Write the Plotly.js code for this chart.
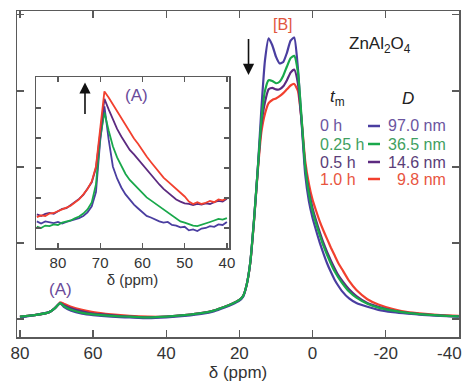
<!DOCTYPE html>
<html>
<head>
<meta charset="utf-8">
<script src="https://cdn.plot.ly/plotly-3.0.1.min.js"></script>
<style>
  html, body { margin: 0; padding: 0; background: #fff; }
  #chart { width: 462px; height: 383px; }
</style>
</head>
<body>
<div id="chart"></div>
<script>
// 27Al NMR spectra of ZnAl2O4 after milling for different times

// milling time, crystallite size and colours of the four spectra
const millTimes = ['0 h', '0.25 h', '0.5 h', '1.0 h'];
const sizes = ['97.0 nm', '36.5 nm', '14.6 nm', '9.8 nm'];
const lineColors = ['#4a3ea0', '#19a84b', '#5c2a80', '#f2402e'];
const textColors = ['#6b55a0', '#3f9f5f', '#5a3d78', '#e8553f'];

// full spectrum: chemical shift (ppm) and normalised intensity
const shiftMain = [80, 76, 72, 70.5, 69.5, 69, 68, 66, 63, 60, 55, 50, 45, 40, 35, 30, 27, 24, 22, 20,
  19, 18, 17, 16, 15, 14, 13, 12, 11, 10, 9, 8, 7, 6, 5, 4, 3, 2, 1, 0,
  -1, -2, -3, -4, -5, -6, -7, -8, -10, -12, -15, -18, -22, -26, -30, -35, -40];

const main0h = [0.02, 0.05, 0.09, 0.14, 0.19, 0.21, 0.16, 0.11, 0.07, 0.05, 0.03, 0.02, 0.01, 0.02, 0.04, 0.07, 0.10, 0.15, 0.19, 0.24,
  0.29, 0.45, 0.75, 1.30, 1.95, 2.75, 3.40, 3.69, 3.60, 3.45, 3.36, 3.38, 3.50, 3.66, 3.70, 3.30, 2.60, 1.90, 1.55, 1.33,
  1.16, 1.00, 0.86, 0.73, 0.62, 0.52, 0.44, 0.37, 0.27, 0.21, 0.16, 0.12, 0.09, 0.07, 0.055, 0.04, 0.03];

const main025h = [0.03, 0.05, 0.09, 0.14, 0.19, 0.21, 0.17, 0.12, 0.08, 0.06, 0.04, 0.03, 0.02, 0.03, 0.05, 0.08, 0.11, 0.16, 0.20, 0.25,
  0.30, 0.45, 0.75, 1.30, 1.95, 2.60, 3.00, 3.14, 3.13, 3.10, 3.12, 3.20, 3.32, 3.43, 3.46, 3.25, 2.65, 2.00, 1.65, 1.42,
  1.25, 1.10, 0.96, 0.84, 0.73, 0.63, 0.55, 0.48, 0.36, 0.28, 0.20, 0.15, 0.11, 0.08, 0.06, 0.045, 0.035];

const main05h = [0.03, 0.05, 0.09, 0.14, 0.19, 0.21, 0.18, 0.14, 0.10, 0.07, 0.05, 0.03, 0.02, 0.03, 0.05, 0.08, 0.11, 0.16, 0.20, 0.25,
  0.30, 0.45, 0.75, 1.30, 1.95, 2.55, 2.85, 3.02, 3.04, 3.02, 3.02, 3.06, 3.14, 3.24, 3.28, 3.10, 2.60, 2.00, 1.68, 1.46,
  1.29, 1.14, 1.00, 0.88, 0.77, 0.67, 0.58, 0.51, 0.39, 0.30, 0.21, 0.16, 0.11, 0.08, 0.06, 0.045, 0.035];

const main10h = [0.03, 0.05, 0.09, 0.14, 0.19, 0.22, 0.20, 0.16, 0.12, 0.09, 0.06, 0.04, 0.03, 0.03, 0.05, 0.08, 0.11, 0.16, 0.20, 0.25,
  0.30, 0.45, 0.74, 1.28, 1.92, 2.45, 2.70, 2.84, 2.88, 2.90, 2.93, 2.97, 3.02, 3.07, 3.09, 3.00, 2.62, 2.08, 1.78, 1.57,
  1.42, 1.28, 1.16, 1.05, 0.94, 0.84, 0.74, 0.66, 0.50, 0.38, 0.26, 0.19, 0.13, 0.09, 0.07, 0.05, 0.04];

// enlarged signal (A): chemical shift (ppm) and intensity
const shiftInset = [85, 84, 83, 82, 81, 80, 79, 78, 77, 76, 75, 74, 73, 72, 71, 70, 69, 68, 67, 66,
  65, 64, 63, 62, 61, 60, 59, 58, 57, 56, 55, 54, 53, 52, 51, 50, 49, 48, 47, 46,
  45, 44, 43, 42, 41, 40];

const inset0h = [0.22, 0.15, 0.22, 0.18, 0.16, 0.20, 0.15, 0.20, 0.24, 0.28, 0.33, 0.40, 0.52, 0.72, 1.20, 2.90, 4.05, 2.95, 2.05, 1.65,
  1.35, 1.12, 0.93, 0.78, 0.65, 0.52, 0.40, 0.35, 0.28, 0.22, 0.18, 0.20, 0.10, 0.08, 0.02, 0.04, -0.08, -0.05, -0.10, -0.02,
  0.00, 0.06, 0.04, 0.12, 0.10, 0.20];

const inset025h = [0.05, 0.00, 0.08, 0.06, 0.12, 0.10, 0.18, 0.22, 0.25, 0.32, 0.38, 0.48, 0.62, 0.85, 1.45, 3.00, 3.85, 3.25, 2.72, 2.35,
  2.05, 1.80, 1.60, 1.45, 1.30, 1.15, 1.02, 0.92, 0.82, 0.72, 0.62, 0.52, 0.40, 0.30, 0.22, 0.18, 0.12, 0.08, 0.06, 0.10,
  0.15, 0.20, 0.25, 0.30, 0.28, 0.33];

const inset05h = [0.45, 0.40, 0.47, 0.50, 0.47, 0.56, 0.64, 0.66, 0.76, 0.84, 0.97, 1.10, 1.30, 1.52, 2.00, 3.20, 4.30, 3.95, 3.60, 3.30,
  3.05, 2.82, 2.60, 2.45, 2.28, 2.10, 1.93, 1.78, 1.62, 1.45, 1.30, 1.18, 1.05, 0.95, 0.88, 0.82, 0.80, 0.76, 0.80, 0.78,
  0.82, 0.80, 0.86, 0.90, 0.88, 0.97];

const inset10h = [0.36, 0.42, 0.40, 0.48, 0.50, 0.55, 0.62, 0.68, 0.74, 0.85, 0.95, 1.12, 1.30, 1.55, 2.05, 3.30, 4.55, 4.35, 4.12, 3.92,
  3.65, 3.42, 3.20, 2.98, 2.80, 2.58, 2.38, 2.20, 2.02, 1.85, 1.68, 1.55, 1.42, 1.30, 1.15, 1.05, 0.88, 0.80, 0.86, 0.80,
  0.84, 0.90, 0.86, 0.95, 0.92, 1.00];

const mainSeries = [main0h, main025h, main05h, main10h];
const insetSeries = [inset0h, inset025h, inset05h, inset10h];

const FONT = 'Liberation Sans, Arial, Helvetica, sans-serif';
const AXIS = '#5a5a5a';

const traces = [];
// full spectra; green drawn last so it sits on top at the baseline
[3, 2, 0, 1].forEach(i => {
  traces.push({
    x: shiftMain, y: mainSeries[i], type: 'scatter', mode: 'lines',
    name: millTimes[i], xaxis: 'x', yaxis: 'y',
    line: { color: lineColors[i], width: 2.2, shape: 'spline', smoothing: 0.5 },
    showlegend: false, hoverinfo: 'skip'
  });
});
// enlarged signal (A)
[0, 1, 2, 3].forEach(i => {
  traces.push({
    x: shiftInset, y: insetSeries[i], type: 'scatter', mode: 'lines',
    name: millTimes[i], xaxis: 'x2', yaxis: 'y2',
    line: { color: lineColors[i], width: 1.8 },
    showlegend: false, hoverinfo: 'skip'
  });
});

// pixel helpers for the plot area (left 17, right 459, top 11, bottom 337)
const px = v => (v - 17) / 442;
const py = v => (337 - v) / 326;

const annotations = [
  { xref: 'x', yref: 'y', x: 69, y: 0.39, text: '(A)', showarrow: false,
    xanchor: 'center', yanchor: 'middle', font: { size: 17, color: '#6a4a9a' } },
  { xref: 'x', yref: 'y', x: 8.2, y: 3.87, text: '[B]', showarrow: false,
    xanchor: 'center', yanchor: 'middle', font: { size: 16, color: '#e0553f' } },
  { xref: 'x', yref: 'y', axref: 'x', ayref: 'y', x: 17.5, y: 3.21, ax: 17.5, ay: 3.70,
    text: '', showarrow: true, arrowhead: 2, arrowsize: 1.4, arrowwidth: 1.6, arrowcolor: '#111' },
  { xref: 'paper', yref: 'paper', x: px(380), y: py(45), text: 'ZnAl<sub>2</sub>O<sub>4</sub>',
    xanchor: 'center', yanchor: 'middle', showarrow: false, font: { size: 17, color: '#222' } },
  { xref: 'paper', yref: 'paper', x: px(337), y: py(98), text: '<i>t</i><sub>m</sub>',
    xanchor: 'center', yanchor: 'middle', showarrow: false, font: { size: 17, color: '#222' } },
  { xref: 'paper', yref: 'paper', x: px(408), y: py(98), text: '<i>D</i>',
    xanchor: 'center', yanchor: 'middle', showarrow: false, font: { size: 17, color: '#222' } },
  // enlarged signal labels
  { xref: 'x2', yref: 'y2', x: 61.3, y: 4.43, text: '(A)', showarrow: false,
    xanchor: 'center', yanchor: 'middle', font: { size: 17, color: '#6a4a9a' } },
  { xref: 'x2', yref: 'y2', axref: 'x2', ayref: 'y2', x: 73.6, y: 4.85, ax: 73.6, ay: 3.75,
    text: '', showarrow: true, arrowhead: 2, arrowsize: 1.4, arrowwidth: 1.6, arrowcolor: '#111' }
];

const shapes = [];
const rowY = [126, 144, 162, 179];
millTimes.forEach((t, i) => {
  annotations.push({ xref: 'paper', yref: 'paper', x: px(318), y: py(rowY[i]),
    xanchor: 'left', yanchor: 'middle',
    text: t, showarrow: false, font: { size: 16, color: textColors[i] } });
  annotations.push({ xref: 'paper', yref: 'paper', x: px(448), y: py(rowY[i]),
    xanchor: 'right', yanchor: 'middle',
    text: sizes[i], showarrow: false, font: { size: 16, color: textColors[i] } });
  shapes.push({ type: 'line', xref: 'paper', yref: 'paper', x0: px(368), x1: px(380),
    y0: py(rowY[i]), y1: py(rowY[i]), line: { color: lineColors[i], width: 2.5 } });
});

const layout = {
  width: 462, height: 383,
  margin: { l: 17, r: 3, t: 11, b: 46, pad: 0 },
  paper_bgcolor: '#fff', plot_bgcolor: '#fff',
  font: { family: FONT, color: '#333' },
  showlegend: false,
  xaxis: {
    range: [80.8, -40.05], domain: [0, 1], anchor: 'y',
    tickvals: [80, 60, 40, 20, 0, -20, -40],
    ticktext: ['80', '60', '40', '20', '0', '-20', '-40\u00a0\u00a0\u00a0\u00a0'],
    ticklabeloverflow: 'allow',
    ticks: 'inside', ticklen: 7, tickwidth: 1.3, tickcolor: AXIS,
    showline: true, linecolor: AXIS, linewidth: 1.5, mirror: 'ticks',
    showgrid: false, zeroline: false,
    tickfont: { size: 17, color: '#333' },
    title: { text: '\u03b4 (ppm)', font: { size: 17, color: '#333' }, standoff: 2 }
  },
  yaxis: {
    range: [-0.237, 4.05], domain: [0, 1], anchor: 'x',
    tickvals: [0, 1, 2, 3, 4], showticklabels: false,
    ticks: 'inside', ticklen: 7, tickwidth: 1.3, tickcolor: AXIS,
    showline: true, linecolor: AXIS, linewidth: 1.5, mirror: 'ticks',
    showgrid: false, zeroline: false
  },
  xaxis2: {
    range: [85.2, 39.5], domain: [px(36), px(229)], anchor: 'y2',
    tickvals: [80, 70, 60, 50, 40],
    ticks: 'inside', ticklen: 5, tickwidth: 1.3, tickcolor: AXIS,
    showline: true, linecolor: AXIS, linewidth: 1.5, mirror: 'ticks',
    showgrid: false, zeroline: false,
    tickfont: { size: 15, color: '#333' },
    title: { text: '\u03b4 (ppm)', font: { size: 15, color: '#333' }, standoff: 1 }
  },
  yaxis2: {
    range: [-0.667, 5.03], domain: [py(248), py(77)], anchor: 'x2',
    tickvals: [0, 1, 2, 3, 4, 5], showticklabels: false,
    ticks: 'inside', ticklen: 5, tickwidth: 1.3, tickcolor: AXIS,
    showline: true, linecolor: AXIS, linewidth: 1.5, mirror: 'ticks',
    showgrid: false, zeroline: false
  },
  annotations: annotations,
  shapes: shapes
};

Plotly.newPlot('chart', traces, layout, { staticPlot: true, displayModeBar: false });
</script>
</body>
</html>
